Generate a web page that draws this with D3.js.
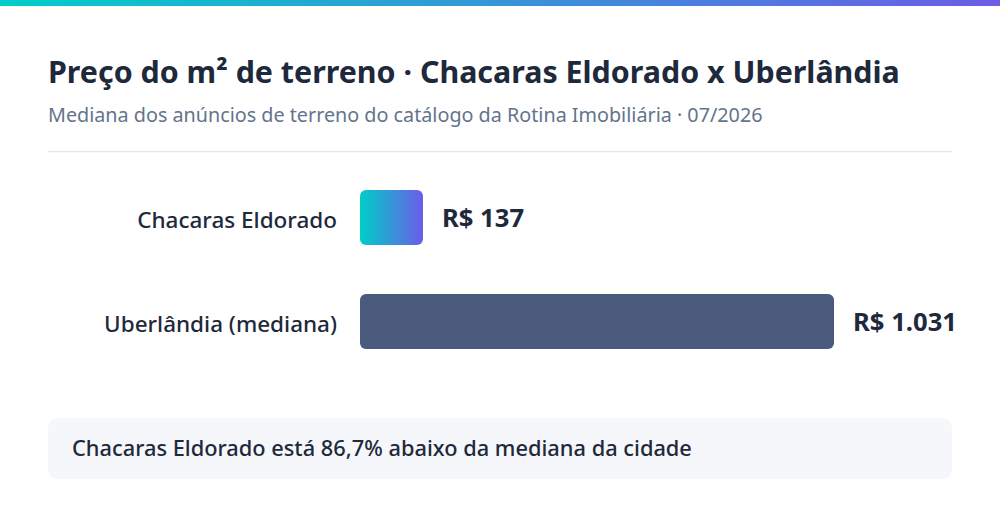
<!DOCTYPE html>
<html><head><meta charset="utf-8">
<script src="https://cdn.jsdelivr.net/npm/d3@7"></script>
<style>html,body{margin:0;padding:0;background:#fff;}svg{display:block;font-family:"Noto Sans",sans-serif;}</style>
</head><body>
<script>
const categories = ["Chacaras Eldorado", "Uberlândia (mediana)"];
const values = [137, 1031];
const valueLabels = ["R$ 137", "R$ 1.031"];
const title = "Preço do m² de terreno · Chacaras Eldorado x Uberlândia";
const subtitle = "Mediana dos anúncios de terreno do catálogo da Rotina Imobiliária · 07/2026";
const note = "Chacaras Eldorado está 86,7% abaixo da mediana da cidade";

const W = 1000, H = 520;
const svg = d3.select("body").append("svg").attr("width", W).attr("height", H);
const defs = svg.append("defs");
const g1 = defs.append("linearGradient").attr("id","topg").attr("x1","0%").attr("x2","100%");
g1.append("stop").attr("offset","0%").attr("stop-color","#00cec9");
g1.append("stop").attr("offset","100%").attr("stop-color","#6c5ce7");
const g2 = defs.append("linearGradient").attr("id","barg").attr("x1","0%").attr("x2","100%");
g2.append("stop").attr("offset","0%").attr("stop-color","#00cec9");
g2.append("stop").attr("offset","100%").attr("stop-color","#6c5ce7");

svg.append("rect").attr("x",0).attr("y",0).attr("width",W).attr("height",6).attr("fill","url(#topg)");

function fit(sel, w) {
  const n = sel.node(); const cw = n.getComputedTextLength();
  const fs = parseFloat(sel.attr("font-size"));
  sel.attr("font-size", fs * w / cw);
}

const t = svg.append("text").attr("x",48).attr("y",82.5).attr("font-size",30).attr("font-weight",700)
  .attr("fill","#1e293b").text(title);
fit(t, 852);
const s = svg.append("text").attr("x",48).attr("y",122).attr("font-size",19).attr("font-weight",400)
  .attr("fill","#64748b").text(subtitle);
fit(s, 715);
svg.append("line").attr("x1",48).attr("x2",952).attr("y1",151.5).attr("y2",151.5)
  .attr("stroke","#e2e8f0").attr("stroke-width",1.5);

const x = d3.scaleLinear().domain([0, d3.max(values)]).range([360, 834]);
const yb = d3.scaleBand().domain(categories).range([190, 349]).paddingInner(49/104);

const rows = svg.append("g").selectAll("g").data(categories).join("g");
rows.append("rect")
  .attr("x", x(0))
  .attr("y", d => yb(d))
  .attr("width", (d,i) => x(values[i]) - x(0))
  .attr("height", yb.bandwidth())
  .attr("rx", 6)
  .attr("fill", (d,i) => i === 0 ? "url(#barg)" : "#4a5a7c");
const lab = rows.append("text")
  .attr("x", 337)
  .attr("y", d => yb(d) + yb.bandwidth()/2 + 10)
  .attr("text-anchor","end")
  .attr("font-size",22.5).attr("font-weight",500).attr("fill","#1e293b")
  .text(d => d);
fit(d3.select(lab.nodes()[0]), 200);
d3.select(lab.nodes()[1]).attr("font-size", d3.select(lab.nodes()[0]).attr("font-size"));
const vl = rows.append("text")
  .attr("x", (d,i) => x(values[i]) + 19)
  .attr("y", d => yb(d) + yb.bandwidth()/2 + 9)
  .attr("font-size",25.5).attr("font-weight",700).attr("fill","#1e293b")
  .text((d,i) => valueLabels[i]);
fit(d3.select(vl.nodes()[1]), 104);
d3.select(vl.nodes()[0]).attr("font-size", d3.select(vl.nodes()[1]).attr("font-size"));

svg.append("rect").attr("x",48).attr("y",418).attr("width",904).attr("height",61).attr("rx",9)
  .attr("fill","#f5f7fa");
const nt = svg.append("text").attr("x",72).attr("y",456)
  .attr("font-size",21.5).attr("font-weight",500).attr("fill","#1e293b").text(note);
fit(nt, 620);
</script>
</body></html>
